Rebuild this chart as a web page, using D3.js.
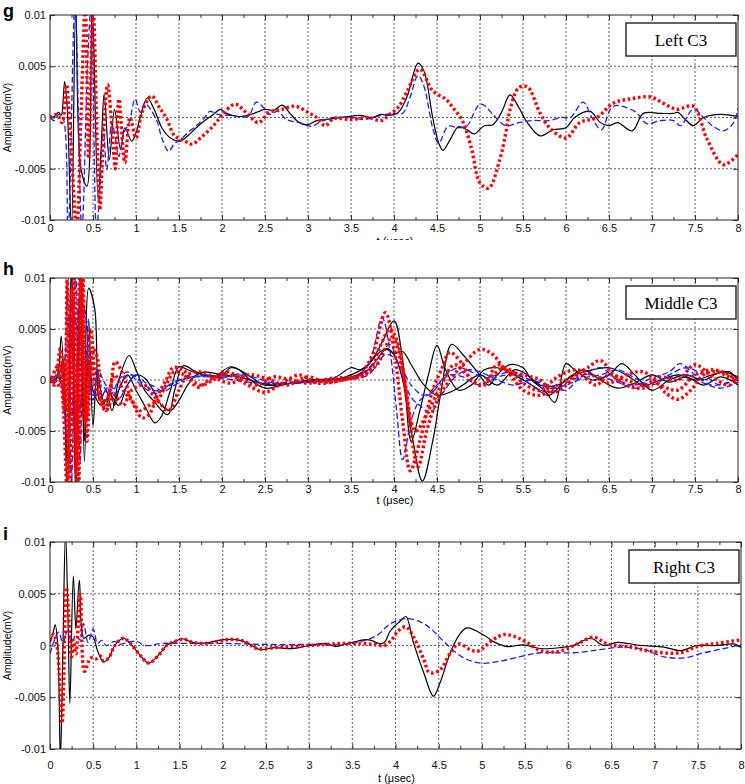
<!DOCTYPE html>
<html><head><meta charset="utf-8">
<script src="https://cdn.jsdelivr.net/npm/d3@7"></script>
<style>body{margin:0;background:#fff} svg{display:block}</style>
</head><body><svg id="c" width="745" height="784"></svg>
<script>
// ---- axis ticks ----
const xTicks = [0,0.5,1,1.5,2,2.5,3,3.5,4,4.5,5,5.5,6,6.5,7,7.5,8];
const xTickLabels = ["0","0.5","1","1.5","2","2.5","3","3.5","4","4.5","5","5.5","6","6.5","7","7.5","8"];
const xMinorTicks = [0.25,0.75,1.25,1.75,2.25,2.75,3.25,3.75,4.25,4.75,5.25,5.75,6.25,6.75,7.25,7.75];
const yTicks = [-10,-5,0,5,10];            // values in units of 0.001 mV
const yTickLabels = ["-0.01","-0.005","0","0.005","0.01"];
const xTitle = "t (\u03bcsec)";
const yTitle = "Amplitude(mV)";

// ---- series: [t (usec), amplitude (x0.001 mV)] ----
const gBlack = [[0,0],[0.05,0.1],[0.1,0.5],[0.13,0.2],[0.17,3.5],[0.2,1],[0.25,-11],[0.3,11],[0.36,-5],[0.43,-6.7],[0.49,11],[0.56,-8],[0.6,-2],[0.63,2.3],[0.69,-4.1],[0.75,0.8],[0.82,-3.1],[0.87,-1],[0.95,-2.3],[1.0,-1.5],[1.05,0],[1.13,1.9],[1.2,1],[1.25,0],[1.3,-1],[1.4,-2],[1.51,-2.3],[1.6,-1.8],[1.7,-1],[1.8,-0.3],[1.9,0.3],[1.98,0.8],[2.05,0.4],[2.2,0.1],[2.3,0.2],[2.4,0.5],[2.5,0.8],[2.6,0.7],[2.7,1.2],[2.8,0.3],[2.9,-0.5],[3.0,-0.7],[3.1,-0.3],[3.2,-0.2],[3.4,0],[3.6,0.2],[3.75,0],[3.85,0.3],[3.95,0.2],[4.05,0.5],[4.15,2],[4.28,5.3],[4.35,4.5],[4.45,0],[4.52,-2.5],[4.57,-3.2],[4.65,-2.2],[4.75,-0.9],[4.85,-1.2],[4.93,-1.6],[5.05,-0.8],[5.15,-0.7],[5.25,0.5],[5.35,2.2],[5.45,1],[5.55,-0.5],[5.7,-1.8],[5.85,-1.2],[6.0,-1.0],[6.1,0],[6.28,0.6],[6.4,-0.5],[6.5,-0.8],[6.6,-0.5],[6.77,-1.3],[6.9,0.4],[7.1,0.4],[7.25,0.4],[7.3,0.5],[7.4,-0.3],[7.48,-0.8],[7.6,0],[7.8,0.3],[8.0,0.1]];
const gBlue = [[0,0],[0.05,-0.3],[0.1,0.3],[0.15,0],[0.21,-11],[0.29,11],[0.37,-11],[0.44,6],[0.48,11],[0.54,-11],[0.58,-7],[0.62,-1],[0.66,-5.1],[0.72,-0.5],[0.76,-2],[0.8,-3.8],[0.86,-1.5],[0.92,-0.5],[0.99,1.8],[1.05,0.5],[1.1,1.4],[1.17,0.8],[1.25,-0.5],[1.3,-2],[1.38,-3.3],[1.45,-2.5],[1.5,-2.3],[1.6,-1.5],[1.7,-0.8],[1.8,0],[1.86,0.6],[1.95,0.3],[2.1,0.2],[2.3,0.1],[2.4,1.5],[2.5,0.8],[2.55,0.3],[2.65,0.6],[2.75,-0.2],[2.9,-0.5],[3.04,-0.85],[3.15,-0.4],[3.3,0],[3.5,0],[3.65,-0.2],[3.8,0.1],[3.9,0.3],[4.0,0.4],[4.1,0.4],[4.18,1.8],[4.28,4.1],[4.35,3.0],[4.45,-1],[4.52,-2.5],[4.63,-0.85],[4.75,-1.0],[4.85,-0.8],[4.95,0.8],[5.0,1.3],[5.05,1.2],[5.15,0.3],[5.3,-0.8],[5.45,-0.5],[5.6,-0.3],[5.8,-0.3],[5.95,0],[6.05,0],[6.2,1.5],[6.3,0],[6.41,-1.2],[6.55,1.1],[6.8,0.6],[6.94,-0.6],[7.1,-0.3],[7.25,-0.3],[7.33,-0.8],[7.48,0.8],[7.6,0],[7.7,-0.8],[7.83,-1.3],[7.95,-0.5],[8.0,0.9]];
const gRed = [[0,0],[0.08,0.3],[0.14,-0.5],[0.19,3.2],[0.24,-2],[0.31,-11],[0.36,0],[0.41,11],[0.45,-4],[0.5,11],[0.55,-3],[0.58,-9],[0.62,-2],[0.67,3.2],[0.72,-1],[0.76,-5],[0.8,1.8],[0.87,-4.4],[0.93,0],[1.0,-2],[1.07,0.5],[1.18,2.1],[1.27,1],[1.35,0],[1.45,-1.8],[1.55,-2.2],[1.65,-2.6],[1.75,-2],[1.9,-0.8],[2.0,0.2],[2.15,1.3],[2.28,0.5],[2.42,-0.5],[2.55,0.5],[2.7,0.8],[2.85,1.1],[3.0,0.5],[3.1,0],[3.2,-0.8],[3.3,-0.1],[3.5,-0.2],[3.7,0],[3.85,-0.3],[3.95,0.3],[4.05,1],[4.15,2.5],[4.3,4.7],[4.45,2.6],[4.6,1.8],[4.7,0.8],[4.8,-0.4],[4.9,-3],[5.0,-6.4],[5.1,-6.9],[5.23,-4.1],[5.3,-1.5],[5.35,0.8],[5.45,2.9],[5.55,3.0],[5.7,0.4],[5.81,-1.0],[6.0,-2.0],[6.16,-0.5],[6.36,0],[6.55,1.4],[6.74,1.8],[6.98,2.0],[7.13,1.4],[7.29,0.8],[7.48,1.1],[7.64,-2.1],[7.83,-4.6],[8.0,-3.6]];

const hBlack1 = [[0,0],[0.05,-0.3],[0.1,1],[0.13,4.3],[0.17,-2],[0.2,-12],[0.25,12],[0.3,-12],[0.35,12],[0.4,-8],[0.45,6],[0.5,-4.5],[0.55,1],[0.6,-1.5],[0.65,-2.5],[0.7,-1.2],[0.75,-2.5],[0.8,-1],[0.9,0.5],[1.0,-1],[1.1,-2.5],[1.22,-4.2],[1.3,-3.5],[1.4,-1],[1.5,1.3],[1.6,1],[1.8,0.5],[2.0,0.5],[2.1,1.2],[2.2,1.0],[2.3,0.2],[2.5,-0.8],[2.7,-0.5],[3.0,0],[3.3,0.2],[3.5,1.2],[3.6,1.0],[3.7,1.5],[3.8,2.5],[3.9,3.0],[4.0,2.5],[4.1,0],[4.2,-5],[4.33,-9.9],[4.45,-6],[4.55,-1],[4.67,3.5],[4.8,2.5],[4.95,1],[5.1,-0.5],[5.2,0.5],[5.35,1.5],[5.5,1.2],[5.6,0],[5.75,-1],[5.87,-2.2],[6.0,1.6],[6.1,1],[6.3,0],[6.5,0.5],[6.65,1.6],[6.8,0.5],[7.0,-1],[7.2,0],[7.4,0.5],[7.6,0],[7.8,0.8],[8.0,0.3]];
const hBlack2 = [[0,0.2],[0.1,0.5],[0.15,2],[0.2,-8],[0.25,10],[0.3,-10],[0.35,8],[0.4,-6],[0.45,9],[0.52,7],[0.58,-2],[0.65,-1],[0.72,-3],[0.8,0],[0.92,2.4],[1.0,1],[1.1,-1],[1.2,-2],[1.37,-3.4],[1.45,-1],[1.55,1.4],[1.7,0.8],[1.9,0.3],[2.1,1.3],[2.3,0.5],[2.5,-0.5],[2.8,-0.3],[3.0,-0.2],[3.3,0],[3.5,0.5],[3.7,1.5],[3.85,3.5],[4.0,5.8],[4.1,2],[4.2,-6],[4.3,-3],[4.4,0.5],[4.5,3.4],[4.6,1],[4.75,-1],[4.9,-0.5],[5.05,1],[5.2,1.2],[5.4,0.5],[5.6,-0.5],[5.8,-1.5],[6.0,0],[6.2,1],[6.4,0],[6.6,-0.8],[6.8,-0.3],[7.0,0.5],[7.2,-0.2],[7.4,0.3],[7.6,-0.5],[7.8,0.3],[8.0,-0.5]];
const hBlack3 = [[0,-0.2],[0.1,0.2],[0.2,-3],[0.25,4],[0.3,-5],[0.35,5],[0.4,-3],[0.45,2],[0.5,-1],[0.6,-2.5],[0.7,-1.5],[0.8,-2.5],[0.9,-0.5],[1.0,0.5],[1.1,0.2],[1.2,-1],[1.3,-2.5],[1.4,-3],[1.5,-2],[1.6,-0.5],[1.7,0.5],[1.8,0.8],[2.0,0.5],[2.2,0.3],[2.4,-0.2],[2.6,-0.5],[2.9,-0.2],[3.2,0],[3.5,0.3],[3.7,1.0],[3.92,3.1],[4.0,2.6],[4.1,2.8],[4.2,1.5],[4.35,-0.5],[4.5,-1.5],[4.65,-1.2],[4.8,-0.5],[5.0,0.5],[5.2,-0.5],[5.4,1.0],[5.55,0.5],[5.7,-0.5],[5.9,-0.5],[6.1,0.5],[6.3,1.0],[6.5,1.2],[6.7,0.5],[6.9,-0.5],[7.1,0],[7.3,0.5],[7.5,0],[7.7,0.5],[7.9,0.8],[8.0,0]];
const hBlue1 = [[0,-0.3],[0.1,0.3],[0.15,-1],[0.2,9],[0.25,-10],[0.3,11],[0.35,-8],[0.4,7],[0.45,4],[0.5,-2],[0.55,0.5],[0.6,-1.5],[0.7,-0.5],[0.8,-1.8],[0.9,-0.5],[1.0,0.5],[1.1,-0.2],[1.2,-0.6],[1.32,-1.1],[1.45,-0.5],[1.6,0.2],[1.8,0.4],[2.0,0.2],[2.2,0.6],[2.4,0.2],[2.6,-0.3],[2.9,-0.3],[3.2,0],[3.5,0.2],[3.7,1.5],[3.86,6.1],[3.95,3],[4.03,-3],[4.1,-7.8],[4.2,-4],[4.3,-2],[4.45,-1.2],[4.6,0.5],[4.75,1.2],[4.9,0.8],[5.05,0.2],[5.2,0.5],[5.4,0.8],[5.6,-0.5],[5.8,-1.2],[6.0,-0.3],[6.2,0.5],[6.4,1.2],[6.6,0],[6.8,-0.5],[7.0,0.2],[7.2,0.8],[7.33,1.6],[7.5,0.5],[7.7,-0.5],[7.9,-0.2],[8.0,0.2]];
const hBlue2 = [[0,0],[0.1,0.5],[0.2,-6],[0.25,7],[0.3,-5],[0.35,8],[0.42,6],[0.47,-1],[0.55,1],[0.65,-0.5],[0.75,-1.5],[0.85,0],[0.95,0.5],[1.1,-0.5],[1.2,-1],[1.3,-1],[1.4,-0.5],[1.5,0],[1.7,0.3],[2.0,0.3],[2.2,0.5],[2.4,-0.2],[2.7,-0.4],[3.0,-0.2],[3.3,0],[3.6,0.5],[3.8,2],[3.95,3.5],[4.05,1.5],[4.2,-1.7],[4.3,-2.5],[4.42,-3.2],[4.55,-1.5],[4.7,0.2],[4.85,1.0],[5.0,0.8],[5.2,0],[5.4,-0.5],[5.6,0],[5.8,-0.8],[6.0,-0.5],[6.2,0.2],[6.4,0.5],[6.6,1.0],[6.8,0.2],[7.0,-0.5],[7.2,0.5],[7.4,1.2],[7.6,0.5],[7.8,-0.5],[8.0,0.3]];
const hBlue3 = [[0,0],[0.1,-0.5],[0.2,3],[0.25,-4],[0.3,6],[0.35,-3],[0.4,4],[0.45,1],[0.5,-1.5],[0.6,-0.5],[0.7,-1.5],[0.8,0],[0.9,0.8],[1.0,0],[1.1,-0.8],[1.25,-1.3],[1.4,-0.4],[1.6,0.2],[1.8,0.5],[2.0,0.2],[2.3,-0.2],[2.6,-0.3],[3.0,-0.1],[3.4,0],[3.7,0.5],[3.9,2.5],[4.0,2.2],[4.1,1],[4.2,-0.5],[4.35,-1.5],[4.5,-0.5],[4.65,0.5],[4.8,0.3],[5.0,-0.5],[5.2,0.3],[5.4,0.5],[5.6,0],[5.8,-0.5],[6.0,-1.0],[6.2,0.5],[6.4,0.3],[6.6,-0.2],[6.8,-0.8],[7.0,-0.3],[7.2,0.2],[7.4,0.5],[7.6,-0.3],[7.8,-0.8],[8.0,-0.2]];
const hRed1 = [[0,0],[0.05,-0.5],[0.12,3.1],[0.17,-3],[0.2,10],[0.23,-11],[0.28,11],[0.33,-11],[0.38,11],[0.43,-6],[0.5,3],[0.55,2.2],[0.6,-2],[0.65,-3],[0.7,-1],[0.76,1.8],[0.85,0.5],[0.95,-2],[1.07,-3.7],[1.15,-3.4],[1.25,-1.5],[1.35,0],[1.43,1.2],[1.55,1],[1.71,-0.7],[1.85,0],[2.0,0.5],[2.15,0.3],[2.3,-0.5],[2.5,-1.2],[2.7,-0.3],[2.9,0.5],[3.1,-0.3],[3.4,0],[3.6,0.5],[3.75,2.5],[3.9,6.6],[4.0,3],[4.1,-4],[4.19,-8.9],[4.3,-6],[4.45,-1],[4.55,1],[4.65,2.7],[4.8,1.5],[4.9,0],[5.05,-0.5],[5.2,1.5],[5.35,0.5],[5.5,-1],[5.7,-1.5],[5.9,-0.5],[6.1,0.5],[6.25,1.2],[6.4,1.9],[6.55,0.5],[6.7,-0.5],[6.9,-0.8],[7.05,-0.3],[7.15,-1.2],[7.3,-1.9],[7.45,-1],[7.6,0.5],[7.75,0.8],[7.9,0.3],[8.0,0]];
const hRed2 = [[0,-0.3],[0.1,1.5],[0.15,-2],[0.2,-11],[0.25,9],[0.3,-9],[0.35,11],[0.4,-4],[0.47,5],[0.55,-1],[0.65,-3],[0.75,-1.5],[0.85,-2.5],[0.95,-1],[1.1,-0.5],[1.2,-1.5],[1.3,-2.5],[1.38,-3],[1.5,-1],[1.6,0.5],[1.75,0.8],[1.9,0.3],[2.1,-0.3],[2.3,0.5],[2.5,0.2],[2.75,-0.5],[3.0,0.3],[3.2,-0.2],[3.5,0.2],[3.7,0.8],[3.85,3.5],[3.95,5.0],[4.05,3.5],[4.15,-2],[4.28,-8.5],[4.38,-5],[4.5,-2],[4.65,0],[4.8,1.5],[5.0,3.0],[5.15,2.5],[5.3,1],[5.5,0.5],[5.7,0],[5.85,-1.2],[6.0,-0.5],[6.15,0.5],[6.35,-0.5],[6.5,0.5],[6.7,0],[6.9,-0.5],[7.1,0.3],[7.3,0],[7.5,1.5],[7.7,0.3],[7.9,-0.5],[8.0,0.3]];
const hRed3 = [[0,0.3],[0.1,-0.5],[0.17,2],[0.22,-8],[0.27,8],[0.32,-10],[0.37,10],[0.42,-4],[0.48,2],[0.55,-1.5],[0.65,-2],[0.75,0.5],[0.85,-1],[0.95,-2],[1.05,-3],[1.15,-2.5],[1.25,-2],[1.35,-0.5],[1.45,0.8],[1.6,0.3],[1.75,-0.5],[1.9,0],[2.05,0.8],[2.2,0.3],[2.4,-0.5],[2.6,0.3],[2.8,0],[3.0,-0.3],[3.3,0.2],[3.6,0.3],[3.8,1.5],[3.98,4.2],[4.1,1],[4.25,-5],[4.4,-3],[4.55,-0.5],[4.7,1.5],[4.85,0.5],[5.0,-0.5],[5.15,0.5],[5.3,1.2],[5.5,-0.3],[5.7,-1],[5.9,0.3],[6.1,1.0],[6.3,0.5],[6.5,-0.3],[6.7,0.5],[6.9,0.8],[7.1,-0.5],[7.3,-1.0],[7.5,0.5],[7.7,1.0],[7.9,0.5],[8.0,-0.3]];

const iBlack = [[0,0.3],[0.03,1.0],[0.06,2.0],[0.09,0],[0.12,-11],[0.15,0],[0.18,11],[0.21,2],[0.23,-5.6],[0.27,6.7],[0.3,1.6],[0.34,6.3],[0.39,0.7],[0.45,1.0],[0.5,0.8],[0.55,-0.5],[0.62,-1.6],[0.68,-1.2],[0.75,0],[0.85,0.7],[0.95,0],[1.05,-1.0],[1.14,-1.7],[1.25,-1.0],[1.35,0],[1.45,0.4],[1.53,0.65],[1.65,0.3],[1.75,0.2],[1.85,0.3],[1.95,0.5],[2.1,0.6],[2.2,0.5],[2.3,0.2],[2.43,-0.4],[2.6,-0.2],[2.8,-0.3],[3.0,0],[3.2,0.2],[3.3,-0.1],[3.4,0.1],[3.5,0.3],[3.63,0.55],[3.72,0.5],[3.8,0.2],[3.87,0.3],[3.94,1.4],[4.06,2.4],[4.12,2.8],[4.21,0.2],[4.33,-2.7],[4.44,-4.9],[4.52,-3.5],[4.63,-0.8],[4.74,1.05],[4.83,1.7],[5.03,0.96],[5.15,0.3],[5.29,-0.1],[5.48,0.06],[5.68,-0.3],[5.91,-0.2],[6.06,0],[6.26,0.7],[6.41,0],[6.57,0.3],[6.84,0],[7.11,-0.15],[7.3,-0.5],[7.49,0],[7.72,0],[7.92,0.15],[8.0,-0.2]];
const iBlue = [[0,-0.8],[0.05,0.5],[0.1,1.3],[0.15,0.2],[0.2,1.4],[0.25,0.3],[0.3,1.0],[0.35,0.5],[0.39,2.1],[0.44,0.3],[0.5,1.6],[0.55,0.2],[0.6,0.5],[0.65,0],[0.75,0.4],[0.8,0.1],[0.9,0.3],[1.0,0.4],[1.1,0],[1.3,0.2],[1.6,0.2],[2.0,0.2],[2.5,0.1],[3.0,0.1],[3.4,0.1],[3.6,0.4],[3.79,1.0],[3.94,2.1],[4.13,2.6],[4.33,2.1],[4.45,1.3],[4.57,0.3],[4.77,-1.1],[4.98,-1.7],[5.22,-1.5],[5.48,-1.0],[5.68,-0.7],[6.06,-0.7],[6.37,-0.4],[6.64,-0.15],[6.88,-0.4],[7.11,-1.1],[7.34,-1.2],[7.57,-0.7],[7.8,-0.3],[8.0,0.1]];
const iRed = [[0,0.5],[0.04,1.1],[0.08,0],[0.14,-7.5],[0.19,5.6],[0.25,-1.1],[0.27,0.5],[0.3,-0.8],[0.35,4.9],[0.4,-2.5],[0.47,-1.2],[0.53,-1.3],[0.58,-1.0],[0.62,-1.5],[0.68,-1.2],[0.75,0],[0.85,0.7],[0.95,0],[1.05,-1.0],[1.14,-1.7],[1.25,-1.0],[1.35,0],[1.45,0.4],[1.55,0.6],[1.65,0.3],[1.8,0.2],[1.95,0.4],[2.1,0.6],[2.25,0.4],[2.4,-0.3],[2.6,-0.2],[2.8,-0.1],[3.0,0],[3.2,0.1],[3.4,0.2],[3.6,0.2],[3.75,0.1],[3.87,0],[3.95,0.5],[4.03,1.4],[4.12,1.8],[4.21,0.8],[4.33,-1.4],[4.39,-2.6],[4.51,-2.4],[4.63,-0.8],[4.73,0.15],[4.89,-0.5],[4.97,-0.5],[5.12,0.5],[5.25,1.05],[5.4,0.8],[5.52,0.3],[5.68,-0.5],[5.87,-0.6],[6.03,-0.15],[6.14,0.3],[6.3,0.8],[6.45,0.15],[6.72,-0.15],[6.99,-0.6],[7.3,-0.7],[7.49,-0.1],[7.72,0.2],[8.0,0.55]];

// ---- styles ----
const styles = {
  black: {stroke:"#000", width:1.2, dash:null, cap:"butt"},
  blue:  {stroke:"#1a1aff", width:1.3, dash:"6,3", cap:"butt"},
  red:   {stroke:"#ff0000", width:3.4, dash:"2.6,2.6", cap:"butt"}
};

const panels = [
  {letter:"g", legend:"Left C3", top:15, bottom:220, left:50, right:738, letterY:17, tickPad:4, titleY:245, titleClip:240,
   series:[[gBlack,"black"],[gBlue,"blue"],[gRed,"red"]]},
  {letter:"h", legend:"Middle C3", top:278, bottom:482, left:50, right:738, letterY:275, tickPad:3, titleY:504, titleClip:null,
   series:[[hBlack1,"black"],[hBlack2,"black"],[hBlack3,"black"],[hBlue1,"blue"],[hBlue2,"blue"],[hBlue3,"blue"],[hRed1,"red"],[hRed2,"red"],[hRed3,"red"]]},
  {letter:"i", legend:"Right C3", top:542, bottom:749, left:50, right:741, letterY:540, tickPad:12, titleY:782, titleClip:null,
   series:[[iBlack,"black"],[iBlue,"blue"],[iRed,"red"]]}
];

const svg = d3.select("#c");
const font = "'Liberation Sans', Arial, sans-serif";

panels.forEach((p, pi) => {
  const x = d3.scaleLinear().domain([0, 8]).range([p.left, p.right]);
  const y = d3.scaleLinear().domain([-10, 10]).range([p.bottom, p.top]);
  const g = svg.append("g");
  const clipId = "clip" + pi;
  svg.append("clipPath").attr("id", clipId).append("rect")
    .attr("x", p.left).attr("y", p.top).attr("width", p.right - p.left).attr("height", p.bottom - p.top);

  // grid
  const grid = g.append("g").attr("stroke", "#333").attr("stroke-width", 0.8).attr("stroke-dasharray", "2,2");
  xTicks.slice(1, -1).forEach(t => grid.append("line").attr("x1", x(t)).attr("x2", x(t)).attr("y1", p.top).attr("y2", p.bottom));
  yTicks.slice(1, -1).forEach(v => grid.append("line").attr("x1", p.left).attr("x2", p.right).attr("y1", y(v)).attr("y2", y(v)));

  // axes (ticks inward)
  const ax = d3.axisBottom(x).tickValues(xTicks).tickFormat((d, i) => xTickLabels[i]).tickSizeInner(-5).tickSizeOuter(0).tickPadding(p.tickPad);
  const axT = d3.axisTop(x).tickValues(xTicks).tickFormat("").tickSizeInner(-5).tickSizeOuter(0);
  const ay = d3.axisLeft(y).tickValues(yTicks).tickFormat((d, i) => yTickLabels[i]).tickSizeInner(-5).tickSizeOuter(0).tickPadding(4);
  const ayR = d3.axisRight(y).tickValues(yTicks).tickFormat("").tickSizeInner(-5).tickSizeOuter(0);
  const mB = d3.axisBottom(x).tickValues(xMinorTicks).tickFormat("").tickSizeInner(-3).tickSizeOuter(0);
  const mT = d3.axisTop(x).tickValues(xMinorTicks).tickFormat("").tickSizeInner(-3).tickSizeOuter(0);
  [[ax, `translate(0,${p.bottom})`], [axT, `translate(0,${p.top})`], [mB, `translate(0,${p.bottom})`], [mT, `translate(0,${p.top})`],
   [ay, `translate(${p.left},0)`], [ayR, `translate(${p.right},0)`]].forEach(([a, tr]) => {
    const s = g.append("g").attr("transform", tr).call(a);
    s.select(".domain").remove();
    s.selectAll("line").attr("stroke", "#333");
    s.selectAll("text").attr("font-family", font).attr("font-size", 11).attr("fill", "#111");
  });

  // series
  const line = d3.line().x(d => x(d[0])).y(d => y(d[1])).curve(d3.curveCatmullRom.alpha(0.5));
  const lg = g.append("g").attr("clip-path", `url(#${clipId})`);
  ["black", "blue", "red"].forEach(kind => {
    p.series.filter(s => s[1] === kind).forEach(([data]) => {
      const st = styles[kind];
      lg.append("path").datum(data).attr("d", line).attr("fill", "none")
        .attr("stroke", st.stroke).attr("stroke-width", st.width)
        .attr("stroke-dasharray", st.dash).attr("stroke-linecap", st.cap).attr("stroke-linejoin", "round");
    });
  });

  // frame
  g.append("rect").attr("x", p.left).attr("y", p.top).attr("width", p.right - p.left).attr("height", p.bottom - p.top)
    .attr("fill", "none").attr("stroke", "#222").attr("stroke-width", 1);

  // legend box
  const bw = 110, bh = 33, bx = p.right - 112, by = p.top + 8;
  g.append("rect").attr("x", bx).attr("y", by).attr("width", bw).attr("height", bh)
    .attr("fill", "#fff").attr("stroke", "#222").attr("stroke-width", 1.4);
  g.append("text").attr("x", bx + bw / 2).attr("y", by + bh / 2 + 6).attr("text-anchor", "middle")
    .attr("font-family", "'Liberation Serif', 'Times New Roman', serif").attr("font-size", 17).text(p.legend);

  // x title (the top panel's title is partly hidden in the reference)
  const tt = g.append("text").attr("x", (p.left + p.right) / 2 + 1).attr("y", p.titleY).attr("text-anchor", "middle")
    .attr("font-family", font).attr("font-size", 11).text(xTitle);
  if (p.titleClip != null) {
    const tc = "tclip" + pi;
    svg.append("clipPath").attr("id", tc).append("rect").attr("x", 0).attr("y", 0).attr("width", 745).attr("height", p.titleClip);
    tt.attr("clip-path", `url(#${tc})`);
  }
  g.append("text").attr("transform", `translate(11,${(p.top + p.bottom) / 2}) rotate(-90)`).attr("text-anchor", "middle")
    .attr("font-family", font).attr("font-size", 10.5).text(yTitle);
  g.append("text").attr("x", 3).attr("y", p.letterY).attr("font-family", font).attr("font-weight", "bold")
    .attr("font-size", 18).text(p.letter);
});
</script>
</body></html>
